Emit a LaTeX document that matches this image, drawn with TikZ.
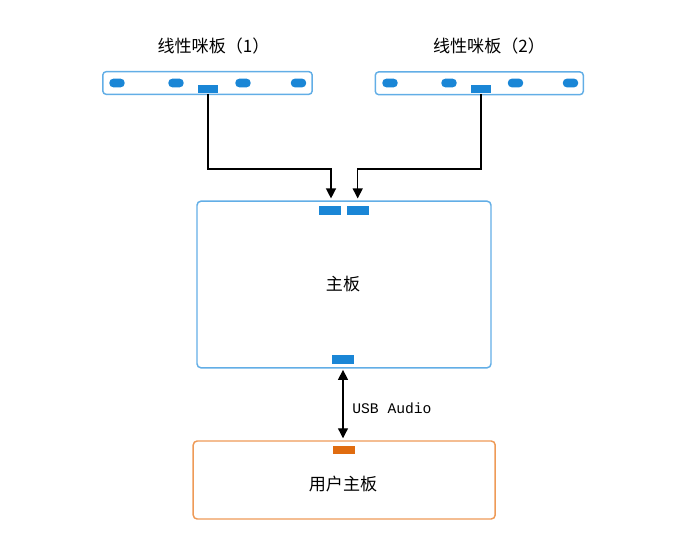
\documentclass[tikz,border=0pt]{standalone}
\usepackage{fontspec}
\newfontfamily\cjk{Noto Sans CJK SC}
\setmonofont{Liberation Mono}
\usetikzlibrary{arrows.meta,positioning}

\definecolor{boardblue}{HTML}{62AEE6}
\definecolor{portblue}{HTML}{1A86D6}
\definecolor{boardorange}{HTML}{EE9A57}
\definecolor{portorange}{HTML}{E06C10}

\tikzset{
  board/.style={draw=boardblue, line width=1.1pt, rounded corners=2.5pt, inner sep=0pt},
  userboard/.style={draw=boardorange, line width=1.1pt, rounded corners=3pt, inner sep=0pt},
  mic/.style={fill=portblue, rounded corners=3pt, minimum width=11.5pt, minimum height=6.5pt, inner sep=0pt},
  port/.style={fill=portblue, minimum width=15.5pt, minimum height=6.3pt, inner sep=0pt},
  label/.style={font=\cjk\fontsize{12.8}{15}\selectfont, inner sep=0pt},
  wire/.style={line width=0.95pt},
  tip/.style={-{Triangle[length=7.5pt,width=7.5pt]}},
  bothtips/.style={{Triangle[length=7.5pt,width=7.5pt]}-{Triangle[length=7.5pt,width=7.5pt]}}
}

\begin{document}
\begin{tikzpicture}[x=0.75pt, y=-0.75pt]
        \useasboundingbox (0,0) rectangle (696,545);

        % Nodes
        \node (title1) [label] at (213.5,46) {线性咪板（1）};
        \node (title2) [label] at (489,46) {线性咪板（2）};

        \node (mic1) [board, minimum width=157pt, minimum height=17pt] at (207.5,83) {};
        \node (mic2) [board, minimum width=156pt, minimum height=17pt] at (479.3,83.3) {};
        \foreach \x [count=\i] in {117,176,243,298.5} {
          \node (m1p\i) [mic] at (\x,83) {};
        }
        \foreach \x [count=\i] in {390,449,515.5,570.5} {
          \node (m2p\i) [mic] at (\x,83) {};
        }
        \node (m1c) [port] at (208,89.3) {};
        \node (m2c) [port] at (481,89.3) {};

        \node (main) [board, rounded corners=3pt, minimum width=220.5pt, minimum height=125pt] at (344,284.5) {};
        \node (mainlabel) [label] at (343,284) {主板};
        \node (mb1) [port, minimum width=16.5pt] at (330,210.5) {};
        \node (mb2) [port, minimum width=16.5pt] at (358,210.5) {};
        \node (mb3) [port, minimum width=16.5pt] at (343,359.5) {};

        \node (user) [userboard, minimum width=226.5pt, minimum height=58.5pt] at (344.2,480) {};
        \node (userlabel) [label] at (343,484) {用户主板};
        \node (uc) [port, fill=portorange, minimum width=16.5pt] at (344,450) {};

        \coordinate (j1) at (331,169);
        \coordinate (j2) at (357.7,169);

        % Edges
        \draw[wire, tip] (m1c.south) |- (j1) -- ([yshift=1.5pt]j1 |- main.north);
        \draw[wire, tip] (m2c.south) |- (j2) -- ([yshift=1.5pt]j2 |- main.north);
        \draw[wire, bothtips] ([yshift=-1pt]main.south -| mb3) -- ([yshift=1.5pt]user.north -| mb3)
          node (usb) [midway, right=6.5pt, yshift=-3pt, font=\ttfamily\fontsize{11}{13}\selectfont, inner sep=0pt] {USB Audio};
\end{tikzpicture}
\end{document}
